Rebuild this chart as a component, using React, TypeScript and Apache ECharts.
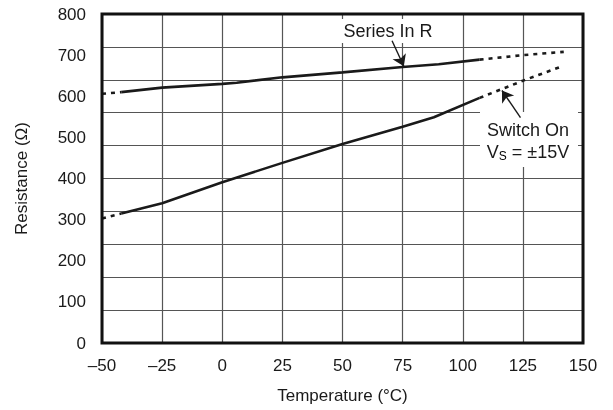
import React, { useEffect, useRef } from "react";
import * as echarts from "echarts";

// Temperature (°C) and resistance (Ω)
const seriesRSolidT = [-42, -25, 0, 6, 25, 50, 75, 90, 107];
const seriesRSolidV = [610, 621, 630, 633, 646, 658, 671, 678, 689];
const seriesRLowDotT = [-50, -42];
const seriesRLowDotV = [606, 610];
const seriesRHighDotT = [107, 125, 142];
const seriesRHighDotV = [689, 700, 708];

const switchSolidT = [-42, -25, 0, 25, 50, 75, 88, 107];
const switchSolidV = [315, 340, 391, 438, 484, 526, 549, 596];
const switchLowDotT = [-50, -42];
const switchLowDotV = [303, 315];
const switchHighDotT = [107, 126, 140];
const switchHighDotV = [596, 640, 670];

const xTicks = [-50, -25, 0, 25, 50, 75, 100, 125, 150];
const yLabelTicks = [0, 100, 200, 300, 400, 500, 600, 700, 800];

// annotation arrows (data space)
const seriesRArrow = [[70.6, 735], [75.5, 673]];
const switchArrow = [[124, 548], [116.3, 614]];

const zip = (t: number[], v: number[]) => t.map((x, i) => [x, v[i]]);

const INK = "#1a1a1a";
const FONT = "Liberation Sans, Arial, Helvetica, sans-serif";

export default function App() {
  const ref = useRef<HTMLDivElement>(null);
  useEffect(() => {
    if (!ref.current) return;
    const chart = echarts.init(ref.current, undefined, { renderer: "svg" });
    const solid = { type: "solid", width: 2.6, color: INK };
    const dotted = { type: [4, 5], width: 2.6, color: INK, cap: "butt" };
    const lineSeries = (data: number[][], style: any) => ({
      type: "line",
      data,
      symbol: "none",
      lineStyle: style,
      silent: true,
      z: 3,
    });
    chart.setOption({
      animation: false,
      textStyle: { fontFamily: FONT },
      grid: {
        left: 102,
        right: 30,
        top: 14,
        bottom: 67,
        show: true,
        borderColor: "#111",
        borderWidth: 3,
        z: 5,
      },
      xAxis: {
        type: "value",
        min: xTicks[0],
        max: xTicks[xTicks.length - 1],
        interval: 25,
        axisLine: { show: false },
        axisTick: { show: false },
        splitLine: { show: true, lineStyle: { color: "#555", width: 1.2 } },
        axisLabel: {
          color: INK,
          fontSize: 17,
          fontFamily: FONT,
          margin: 14,
          formatter: (v: number) => (v < 0 ? "\u2013" + Math.abs(v) : String(v)),
        },
        name: "Temperature (°C)",
        nameLocation: "middle",
        nameGap: 44,
        nameTextStyle: { color: INK, fontSize: 17, fontFamily: FONT },
      },
      yAxis: [
        {
          type: "value",
          min: yLabelTicks[0],
          max: yLabelTicks[yLabelTicks.length - 1],
          interval: 100,
          axisLine: { show: false },
          axisTick: { show: false },
          splitLine: { show: false },
          axisLabel: { color: INK, fontSize: 17, fontFamily: FONT, margin: 16 },
          name: "Resistance (Ω)",
          nameLocation: "middle",
          nameGap: 72,
          nameRotate: 90,
          nameTextStyle: { color: INK, fontSize: 17, fontFamily: FONT },
        },
        {
          type: "value",
          min: 0,
          max: 800,
          interval: 80,
          position: "left",
          axisLine: { show: false },
          axisTick: { show: false },
          axisLabel: { show: false },
          splitLine: { show: true, lineStyle: { color: "#555", width: 1.2 } },
        },
      ],
      series: [
        lineSeries(zip(seriesRSolidT, seriesRSolidV), solid),
        lineSeries(zip(seriesRLowDotT, seriesRLowDotV), dotted),
        lineSeries(zip(seriesRHighDotT, seriesRHighDotV), dotted),
        lineSeries(zip(switchSolidT, switchSolidV), solid),
        lineSeries(zip(switchLowDotT, switchLowDotV), dotted),
        lineSeries(zip(switchHighDotT, switchHighDotV), dotted),
        {
          type: "lines",
          coordinateSystem: "cartesian2d",
          silent: true,
          z: 6,
          symbol: ["none", "arrow"],
          symbolSize: 11,
          lineStyle: { color: INK, width: 1.4, opacity: 1 },
          data: [{ coords: seriesRArrow }, { coords: switchArrow }],
        },
      ],
      graphic: [
        {
          type: "rect",
          shape: { x: 338, y: 19, width: 100, height: 24 },
          style: { fill: "#fff" },
          z: 4,
        },
        {
          type: "text",
          x: 388,
          y: 31,
          z: 7,
          style: {
            text: "Series In R",
            fill: INK,
            font: `18px ${FONT}`,
            align: "center",
            verticalAlign: "middle",
          },
        },
        {
          type: "rect",
          shape: { x: 480, y: 112, width: 98, height: 55 },
          style: { fill: "#fff" },
          z: 4,
        },
        {
          type: "text",
          x: 528,
          y: 130,
          z: 7,
          style: {
            text: "Switch On",
            fill: INK,
            font: `18px ${FONT}`,
            align: "center",
            verticalAlign: "middle",
          },
        },
        {
          type: "text",
          x: 528,
          y: 152,
          z: 7,
          style: {
            text: "{v|V}{s|S}{v| = ±15V}",
            align: "center",
            verticalAlign: "middle",
            rich: {
              v: { fontSize: 18, fontFamily: FONT, fill: INK, color: INK },
              s: {
                fontSize: 12,
                fontFamily: FONT,
                color: INK,
                verticalAlign: "bottom",
                padding: [8, 0, 0, 0],
              },
            },
          },
        },
      ],
    });
    return () => chart.dispose();
  }, []);
  return (
    <div
      ref={ref}
      style={{ position: "fixed", left: 0, top: 0, width: 613, height: 410 }}
    />
  );
}
